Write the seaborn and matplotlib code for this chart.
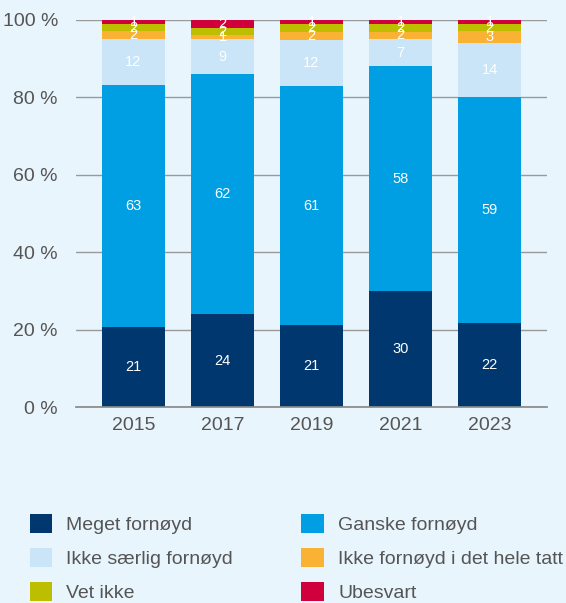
import matplotlib.pyplot as plt
import seaborn as sns
import pandas as pd
import numpy as np
from matplotlib.patches import Patch

years = ["2015", "2017", "2019", "2021", "2023"]
categories = ["Meget fornøyd", "Ganske fornøyd", "Ikke særlig fornøyd",
              "Ikke fornøyd i det hele tatt", "Vet ikke", "Ubesvart"]
meget = [21, 24, 21, 30, 22]
ganske = [63, 62, 61, 58, 59]
ikke_saerlig = [12, 9, 12, 7, 14]
ikke_fornoyd = [2, 1, 2, 2, 3]
vet_ikke = [2, 2, 2, 2, 2]
ubesvart = [1, 2, 1, 1, 1]
colors = ["#00376F", "#009FE3", "#C9E5F7", "#F9B233", "#BDBE00", "#D0003C"]

bg = "#E8F5FD"
sns.set_theme(style="white")
plt.rcParams["font.family"] = ["Liberation Sans", "DejaVu Sans"]

series = [meget, ganske, ikke_saerlig, ikke_fornoyd, vet_ikke, ubesvart]
df = pd.DataFrame({"year": years})
for name, vals in zip(categories, series):
    df[name] = vals
# rounded shares don't always sum to 100, bars are scaled to full height
totals = df[categories].sum(axis=1)
share = df[categories].div(totals, axis=0) * 100
cum = share.cumsum(axis=1)

fig = plt.figure(figsize=(5.66, 6.03), dpi=100, facecolor=bg)
ax = fig.add_axes([76 / 566, 1 - 407 / 603, (547 - 76) / 566, 387 / 603])
ax.set_facecolor(bg)
ax.set_axisbelow(True)

# draw cumulative totals from top layer down so each layer covers the next
for name, color in reversed(list(zip(categories, colors))):
    sns.barplot(x=df["year"], y=cum[name], color=color, width=0.708,
                saturation=1, ax=ax, linewidth=0)

# segment labels
for i in range(len(years)):
    base = 0
    for name in categories:
        h = share.loc[i, name]
        ax.text(i, base + h / 2, str(df.loc[i, name]), ha="center", va="center",
                color="white", fontsize=10.5)
        base += h

ax.set_ylim(0, 100)
ax.set_xlim(-0.646, 4.646)
ax.set_yticks([0, 20, 40, 60, 80, 100])
ax.set_yticklabels([f"{t} %" for t in [0, 20, 40, 60, 80, 100]])
ax.yaxis.grid(True, color="#9a9a9a", linewidth=1)
ax.set_xlabel("")
ax.set_ylabel("")
for s in ["left", "right", "top"]:
    ax.spines[s].set_visible(False)
ax.spines["bottom"].set_color("#8a8a8a")
ax.tick_params(axis="both", length=0, labelsize=14, colors="#555555")
ax.tick_params(axis="y", pad=13)
ax.tick_params(axis="x", pad=7)

# legend is filled row by row in the reference
order = [0, 2, 4, 1, 3, 5]
handles = [Patch(facecolor=colors[k], edgecolor="none", label=categories[k]) for k in order]
leg = fig.legend(handles=handles, ncol=2, loc="upper left",
                 bbox_to_anchor=(12 / 566, 1 - 496 / 603), frameon=False,
                 fontsize=14, handlelength=1.15, handleheight=1.15,
                 handletextpad=0.75, columnspacing=3.5, labelspacing=0.72,
                 labelcolor="#555555")

fig.savefig("out.png", dpi=100, facecolor=bg)
